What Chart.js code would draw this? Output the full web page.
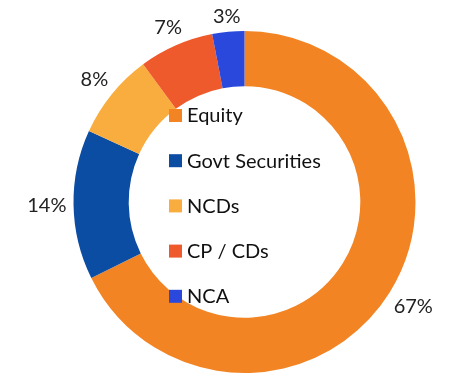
<!DOCTYPE html>
<html>
<head>
<meta charset="utf-8">
<script src="https://cdn.jsdelivr.net/npm/chart.js@4"></script>
<style>
  html, body { margin: 0; padding: 0; background: #fff; }
  #wrap { width: 476px; height: 391px; }
</style>
</head>
<body>
<div id="wrap"><canvas id="myChart" width="476" height="391"></canvas></div>
<script>
const labels = ['Equity', 'Govt Securities', 'NCDs', 'CP / CDs', 'NCA'];
const values = [67, 14, 8, 7, 3];
const pctLabels = ['67%', '14%', '8%', '7%', '3%'];
const colors = ['#F28424', '#0B4DA2', '#F9AD3E', '#EE5A2B', '#2A48DC'];

const fontFamily = 'Lato, "Open Sans", sans-serif';

// percent labels just outside each slice
const outsideLabels = {
    id: 'outsideLabels',
    afterDatasetsDraw(chart) {
        const ctx = chart.ctx;
        const meta = chart.getDatasetMeta(0);
        ctx.save();
        ctx.font = '20px ' + fontFamily;
        ctx.fillStyle = '#222';
        ctx.textAlign = 'center';
        ctx.textBaseline = 'middle';
        meta.data.forEach((arc, i) => {
            const mid = (arc.startAngle + arc.endAngle) / 2;
            const cos = Math.cos(mid), sin = Math.sin(mid);
            const w = ctx.measureText(pctLabels[i]).width;
            const h = 15;
            const r = arc.outerRadius + 7 + Math.abs(cos) * w / 2 + Math.abs(sin) * h / 2;
            ctx.fillText(pctLabels[i], arc.x + cos * r, arc.y + sin * r);
        });
        ctx.restore();
    }
};

// legend drawn inside the hole
const innerLegend = {
    id: 'innerLegend',
    afterDraw(chart) {
        const ctx = chart.ctx;
        ctx.save();
        ctx.font = '20px ' + fontFamily;
        ctx.textBaseline = 'middle';
        ctx.textAlign = 'left';
        labels.forEach((lab, i) => {
            const y = 115 + i * 45.2;
            ctx.fillStyle = colors[i];
            ctx.fillRect(169, y - 6, 13, 13);
            ctx.fillStyle = '#111';
            ctx.fillText(lab, 187, y + 1);
        });
        ctx.restore();
    }
};

new Chart(document.getElementById('myChart'), {
    type: 'doughnut',
    data: {
        labels: labels,
        datasets: [{
            data: values,
            backgroundColor: colors,
            borderWidth: 0
        }]
    },
    options: {
        responsive: false,
        animation: false,
        radius: 171,
        cutout: 128,
        layout: { padding: { left: 13, right: 0, top: 13, bottom: 0 } },
        plugins: {
            legend: { display: false },
            tooltip: { enabled: false }
        }
    },
    plugins: [outsideLabels, innerLegend]
});
</script>
</body>
</html>
